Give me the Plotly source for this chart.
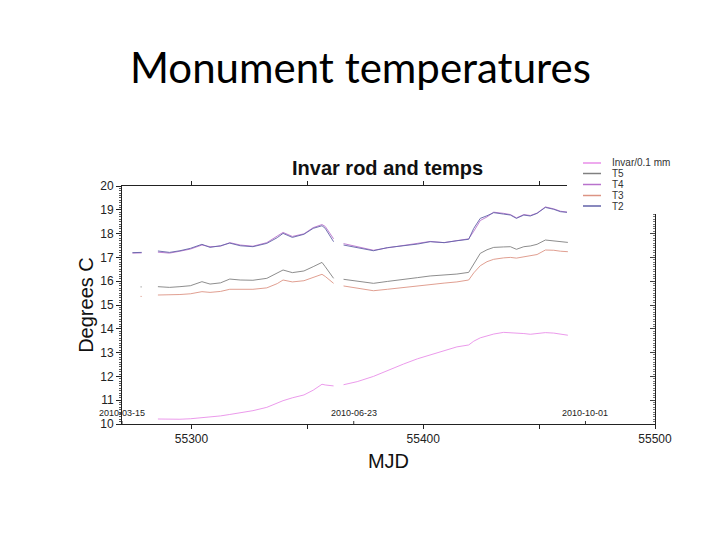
import datetime
import plotly.graph_objects as go

# ---------------- data ----------------
mjd = [55274.5, 55275.1, 55278.0, 55278.5, 55281,
       55285.5, 55290.5, 55295, 55299.5, 55304.5, 55308, 55312.5, 55316.5, 55321,
       55326.5, 55332.5, 55337, 55339.5, 55343.5, 55348.5, 55352.5, 55356.3, 55357.7,
       55361.3, 55363, 55365.6, 55371.5, 55378.5, 55384.5, 55391.5, 55397.5, 55403,
       55409, 55414.5, 55419.6, 55421.8, 55424.6, 55427.5, 55430.4, 55434.7, 55437.6,
       55440.2, 55443.4, 55446.2, 55449.1, 55452.7, 55456.3, 55459.2, 55462.4]

t2 = [17.20, 17.20, 17.21, 17.21, None,
      17.27, 17.21, 17.28, 17.38, 17.55, 17.42, 17.49, 17.60, 17.49, 17.45, 17.59, 17.83,
      18.01, 17.84, 17.97, 18.22, 18.33, 18.22, 17.66, None, 17.52, 17.42, 17.28, 17.41,
      17.49, 17.56, 17.66, 17.62, 17.70, 17.76, 18.22, 18.64, 18.75, 18.88, 18.82, 18.78,
      18.64, 18.78, 18.74, 18.85, 19.10, 19.02, 18.92, 18.89]

t4 = [17.18, 17.18, 17.19, 17.19, None,
      17.22, 17.18, 17.26, 17.35, 17.52, 17.45, 17.47, 17.62, 17.52, 17.47, 17.62, 17.88,
      18.05, 17.88, 17.99, 18.25, 18.38, 18.30, 17.78, None, 17.58, 17.45, 17.30, 17.40,
      17.50, 17.57, 17.67, 17.62, 17.71, 17.78, 18.10, 18.55, 18.70, 18.90, 18.85, 18.80,
      18.66, 18.80, 18.76, 18.86, 19.12, 19.04, 18.94, 18.90]

t5 = [None, None, 15.76, 15.76, None,
      15.77, 15.74, 15.77, 15.81, 15.98, 15.88, 15.93, 16.09, 16.05, 16.04, 16.12, 16.35,
      16.47, 16.36, 16.43, 16.61, 16.79, 16.61, 16.12, None, 16.08, 16.00, 15.91, 15.99,
      16.09, 16.15, 16.22, 16.26, 16.30, 16.37, 16.75, 17.17, 17.32, 17.42, 17.44, 17.45,
      17.34, 17.45, 17.48, 17.55, 17.73, 17.69, 17.64, 17.63]

t3 = [None, None, 15.36, 15.36, None,
      15.42, 15.42, 15.44, 15.47, 15.56, 15.53, 15.57, 15.66, 15.66, 15.66, 15.72, 15.90,
      16.05, 15.97, 16.02, 16.17, 16.29, 16.20, 15.91, None, 15.80, 15.70, 15.60, 15.66,
      15.74, 15.80, 15.87, 15.92, 15.97, 16.05, 16.35, 16.65, 16.82, 16.92, 16.98, 17.00,
      16.97, 17.02, 17.05, 17.12, 17.31, 17.30, 17.26, 17.24]

invar = [None, None, None, None, None,
         10.21, 10.20, 10.20, 10.22, 10.26, 10.29, 10.34, 10.40, 10.47, 10.56, 10.70, 10.90,
         10.98, 11.10, 11.22, 11.42, 11.67, 11.64, 11.60, None, 11.65, 11.78, 12.00, 12.25,
         12.52, 12.74, 12.90, 13.10, 13.24, 13.32, 13.48, 13.62, 13.70, 13.78, 13.85, 13.84,
         13.81, 13.80, 13.77, 13.80, 13.84, 13.82, 13.78, 13.73]

series_names = ["Invar/0.1 mm", "T5", "T4", "T3", "T2"]
series_colors = ["#e98ee9", "#808080", "#b872cc", "#dc9484", "#6262a8"]
series_values = [invar, t5, t4, t3, t2]

date_labels = ["2010-03-15", "2010-06-23", "2010-10-01"]

# ---------------- geometry helpers ----------------
W, H = 720, 540
L, R, T, B = 122, 65, 186, 116
PW, PH = W - L - R, H - T - B


def px(x):
    return (x - L) / PW


def py(y):
    return (H - B - y) / PH


fig = go.Figure()
for name, col, vals in zip(series_names, series_colors, series_values):
    fig.add_trace(go.Scatter(x=mjd, y=vals, mode="lines", name=name,
                             line=dict(color=col, width=0.9), connectgaps=False,
                             showlegend=False, hoverinfo="skip",
                             yaxis="y2" if name == "T2" else "y"))

tickfont = dict(family="Liberation Sans, Arial, sans-serif", size=12, color="#222")
fig.update_layout(
    width=W, height=H,
    margin=dict(l=L, r=R, t=T, b=B),
    paper_bgcolor="white", plot_bgcolor="white",
    showlegend=False,
    xaxis=dict(range=[55270, 55500], tick0=55300, dtick=100, tickformat="d",
               ticks="outside", ticklen=4, tickcolor="#222", showline=True,
               linecolor="#222", linewidth=1, mirror="ticks", showgrid=False,
               zeroline=False, tickfont=tickfont,
               minor=dict(dtick=50, tick0=55250, ticks="outside", ticklen=4,
                          tickcolor="#222", showgrid=False),
               title=dict(text="MJD", font=dict(family="Liberation Sans, Arial",
                                                 size=20, color="#111"), standoff=8)),
    yaxis=dict(range=[10, 20], dtick=1, ticks="outside", ticklen=5, tickcolor="#222",
               showline=True, linecolor="#222", linewidth=1, showgrid=False,
               zeroline=False, tickfont=tickfont,
               minor=dict(dtick=0.1, ticks="outside", ticklen=2, tickcolor="#555",
                          showgrid=False),
               title=dict(text="Degrees C", font=dict(family="Liberation Sans, Arial",
                                                       size=20, color="#111"), standoff=1)),
    yaxis2=dict(range=[10, 20], overlaying="y", side="right", matches="y", dtick=1,
                ticks="inside", ticklen=5, tickcolor="#444", showline=True,
                linecolor="#222", linewidth=1, showgrid=False, zeroline=False,
                showticklabels=False,
                minor=dict(dtick=0.1, ticks="inside", ticklen=2, tickcolor="#777",
                           showgrid=False)),
)

shapes = []
annotations = []

# date markers along bottom axis
epoch = datetime.date(1858, 11, 17)
for d in date_labels:
    m = (datetime.date.fromisoformat(d) - epoch).days
    shapes.append(dict(type="line", xref="x", yref="paper", x0=m, x1=m, y0=0,
                       y1=py(421), line=dict(color="#333", width=1)))
    annotations.append(dict(x=m, y=py(412.5), xref="x", yref="paper", text=d,
                            showarrow=False, xanchor="center", yanchor="middle",
                            font=dict(family="Liberation Sans, Arial", size=9,
                                      color="#222")))

# white legend box covering the top-right corner of the frame
shapes.append(dict(type="rect", xref="paper", yref="paper", x0=px(567), x1=px(720),
                   y0=py(214), y1=py(140), fillcolor="white",
                   line=dict(width=0), layer="above"))

legend_rows = [163, 173.5, 184.5, 195.5, 206]
for name, col, yy in zip(series_names, series_colors, legend_rows):
    shapes.append(dict(type="line", xref="paper", yref="paper", x0=px(583), x1=px(601),
                       y0=py(yy), y1=py(yy), line=dict(color=col, width=1.5),
                       layer="above"))
    annotations.append(dict(x=px(610), y=py(yy), xref="paper", yref="paper", text=name,
                            showarrow=False, xanchor="left", yanchor="middle",
                            font=dict(family="Liberation Sans, Arial", size=10,
                                      color="#333")))

# chart title
annotations.append(dict(x=px(387), y=py(168), xref="paper", yref="paper",
                        text="<b>Invar rod and temps</b>", showarrow=False,
                        xanchor="center", yanchor="middle",
                        font=dict(family="Liberation Sans, Arial", size=20,
                                  color="#111")))
# slide title
annotations.append(dict(x=px(360), y=py(67), xref="paper", yref="paper",
                        text="Monument temperatures", showarrow=False,
                        xanchor="center", yanchor="middle",
                        font=dict(family="Lato, Carlito, sans-serif", size=42,
                                  color="#000")))

fig.update_layout(shapes=shapes, annotations=annotations)
fig.write_html("out.html")
